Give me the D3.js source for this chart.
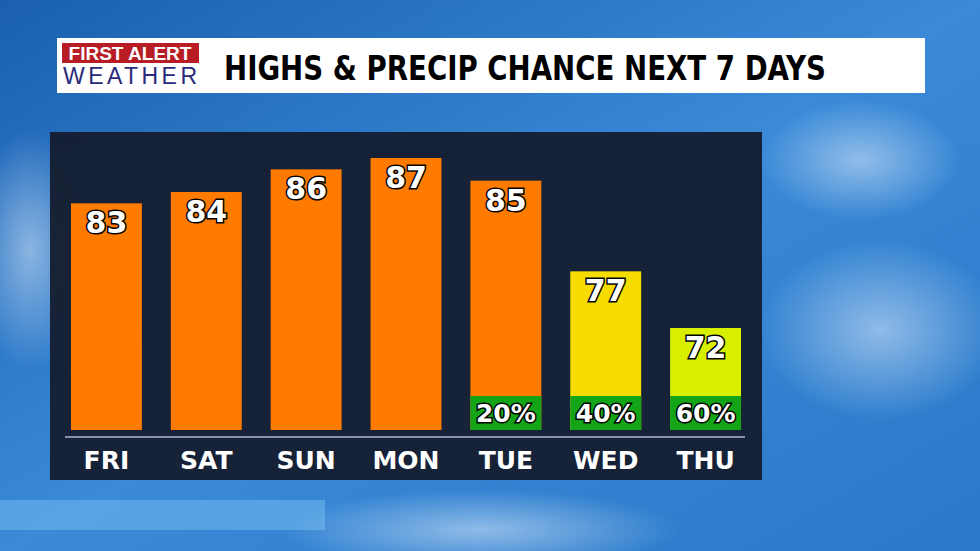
<!DOCTYPE html>
<html><head><meta charset="utf-8">
<script src="https://cdn.jsdelivr.net/npm/d3@7"></script>
<style>body{margin:0;overflow:hidden}</style></head>
<body><svg id="c" width="980" height="551"></svg>
<script>
const days = ["FRI","SAT","SUN","MON","TUE","WED","THU"];
const highs = [83,84,86,87,85,77,72];
const precip = [null,null,null,null,20,40,60];
const barColors = ["#ff7b00","#ff7b00","#ff7b00","#ff7b00","#ff7b00","#f6dc00","#d8f000"];

const svg = d3.select("#c");
const defs = svg.append("defs");
const g1 = defs.append("linearGradient").attr("id","sky").attr("x1",0).attr("y1",0).attr("x2",1).attr("y2",1);
g1.append("stop").attr("offset",0).attr("stop-color","#1a5fb0");
g1.append("stop").attr("offset",0.5).attr("stop-color","#3a8ad8");
g1.append("stop").attr("offset",1).attr("stop-color","#2a78c8");
svg.append("rect").attr("width",980).attr("height",551).attr("fill","url(#sky)");
const cl = defs.append("radialGradient").attr("id","cloud");
cl.append("stop").attr("offset",0).attr("stop-color","rgba(220,235,250,0.55)");
cl.append("stop").attr("offset",1).attr("stop-color","rgba(220,235,250,0)");
[[880,330,120,90],[30,250,60,120],[860,160,100,60],[480,530,200,40]].forEach(c=>
  svg.append("ellipse").attr("cx",c[0]).attr("cy",c[1]).attr("rx",c[2]).attr("ry",c[3]).attr("fill","url(#cloud)"));
svg.append("rect").attr("x",0).attr("y",500).attr("width",325).attr("height",30).attr("fill","rgba(120,190,240,0.5)");

// title
svg.append("rect").attr("x",57).attr("y",38).attr("width",868).attr("height",55).attr("fill","#fff");
svg.append("rect").attr("x",62).attr("y",43).attr("width",137).attr("height",20).attr("fill","#b81c25");
svg.append("text").attr("x",130).attr("y",60).attr("text-anchor","middle").attr("fill","#fff")
  .attr("font-family","Liberation Sans, Arial").attr("font-weight","bold").attr("font-size",19).text("FIRST ALERT");
svg.append("text").attr("x",130).attr("y",84).attr("text-anchor","middle").attr("fill","#2a2a7a")
  .attr("font-family","Liberation Sans, Arial").attr("font-size",23).attr("textLength",134).text("WEATHER");
svg.append("text").attr("x",224).attr("y",80).attr("fill","#000")
  .attr("font-family","DejaVu Sans Condensed, DejaVu Sans").attr("font-weight","bold").attr("font-size",34)
  .attr("textLength",602).attr("lengthAdjust","spacingAndGlyphs").text("HIGHS & PRECIP CHANCE NEXT 7 DAYS");

// panel
svg.append("rect").attr("x",50).attr("y",132).attr("width",712).attr("height",348).attr("fill","#141c2e").attr("opacity",0.95);

const x = d3.scaleBand().domain(days).range([56,756]).paddingInner(0.29).paddingOuter(0.15);
const y = d3.scaleLinear().domain([63,90]).range([430,124]);

const bars = svg.append("g").selectAll("g").data(days).join("g");
bars.append("rect").attr("x",d=>x(d)).attr("width",x.bandwidth())
  .attr("y",(d,i)=>y(highs[i])).attr("height",(d,i)=>y(63)-y(highs[i])).attr("fill",(d,i)=>barColors[i]);
const txt = (sel)=>sel.attr("font-family","DejaVu Sans").attr("font-weight","bold").attr("text-anchor","middle")
  .attr("fill","#fff").attr("stroke","#000").attr("stroke-width",3).attr("paint-order","stroke");
bars.append("text").attr("x",d=>x(d)+x.bandwidth()/2).attr("y",(d,i)=>y(highs[i])+30)
  .attr("font-size",30).text((d,i)=>highs[i]).call(txt);
const pb = bars.filter((d,i)=>precip[i]!=null);
pb.append("rect").attr("x",d=>x(d)).attr("width",x.bandwidth()).attr("y",396).attr("height",34).attr("fill","#13a418");
pb.append("text").attr("x",d=>x(d)+x.bandwidth()/2).attr("y",422).attr("font-size",25)
  .text(d=>precip[days.indexOf(d)]+"%").call(txt);

const ax = svg.append("g").attr("transform","translate(0,437)").call(d3.axisBottom(x).tickSize(0).tickPadding(9));
ax.select(".domain").attr("stroke","#8a93a6").attr("stroke-width",2).attr("d","M65,0H745");
ax.selectAll("text").attr("fill","#fff").attr("font-family","DejaVu Sans").attr("font-weight","bold").attr("font-size",25).attr("dy","0.9em");
</script></body></html>
